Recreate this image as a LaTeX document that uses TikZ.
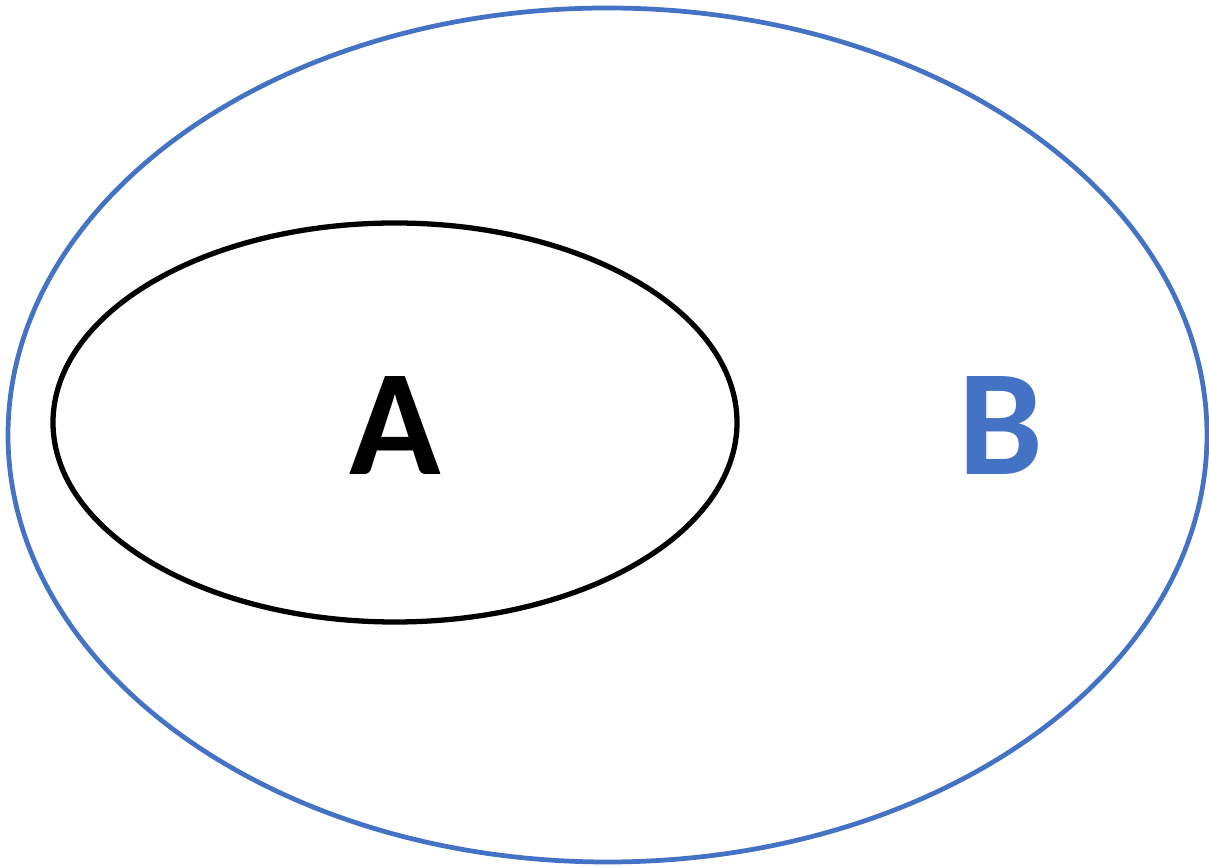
\documentclass[tikz,border=0pt]{standalone}
\usepackage{fontspec}
\setmainfont{Carlito}
\usetikzlibrary{shapes.geometric, positioning}
\definecolor{setblue}{HTML}{4472C4}
\tikzstyle{setring} = [draw, ellipse, line width=2.7pt, inner sep=0pt]
\tikzstyle{setlabel} = [font=\fontsize{86}{86}\selectfont\bfseries, inner sep=0pt]

\begin{document}
\begin{tikzpicture}
	\useasboundingbox (0,0) rectangle (24.18,17.32);
	\node [setring, draw=setblue, minimum width=23.98cm, minimum height=17.08cm] (setB) at (12.15,8.62) {};
	\node [setring, draw=black, line width=3pt, minimum width=13.68cm, minimum height=7.98cm] (setA) at (7.9,8.87) {};
	\node [setlabel] (labelA) at (7.9,8.81) {A};
	\node [setlabel, text=setblue] (labelB) at (20.02,8.81) {B};
\end{tikzpicture}
\end{document}
